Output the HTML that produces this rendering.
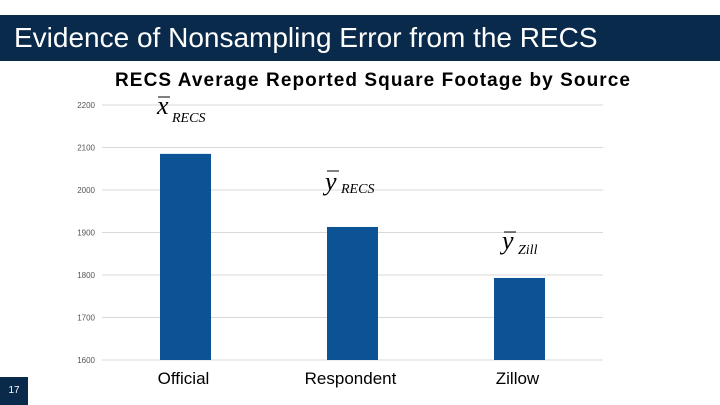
<!DOCTYPE html>
<html><head><meta charset="utf-8"><style>
body{margin:0;width:720px;height:405px;background:#fff;overflow:hidden;position:relative;font-family:"Liberation Sans",sans-serif}
#banner{position:absolute;left:0;top:15px;width:720px;height:46px;background:#0a2a4c;color:#fff;font-size:28px;line-height:46px;padding-left:14px;box-sizing:border-box}
#pg{position:absolute;left:0;top:377px;width:28px;height:28px;background:#0a2a4c;color:#fff;font-size:10px;line-height:28px;text-align:center}
</style></head><body>
<div id="banner">Evidence of Nonsampling Error from the RECS</div>
<div id="pg">17</div>
<svg id="chart" width="720" height="405" style="position:absolute;left:0;top:0">
<text x="115" y="86" textLength="515" lengthAdjust="spacing" font-size="19" font-weight="bold" font-family="Liberation Sans">RECS Average Reported Square Footage by Source</text>
<g id="grid"></g><g id="bars"></g><g id="labels"></g>
<g font-family="Liberation Serif" font-style="italic">
<text x="157" y="114" font-size="26">x</text><line x1="158" y1="97" x2="170" y2="97" stroke="#000"/><text x="172" y="122" font-size="14">RECS</text>
<text x="325" y="190" font-size="26">y</text><line x1="327" y1="171" x2="339" y2="171" stroke="#000"/><text x="341" y="193" font-size="14">RECS</text>
<text x="502" y="249" font-size="26">y</text><line x1="504" y1="232" x2="516" y2="232" stroke="#000"/><text x="518" y="254" font-size="14">Zill</text>
</g>
</svg>
<script>
const categories=["Official","Respondent","Zillow"];
const values=[2085,1913,1793];
const ticks=[1600,1700,1800,1900,2000,2100,2200];
const y0=360,y1=105,vmin=1600,vmax=2200;
const y=v=>y0-(v-vmin)/(vmax-vmin)*(y0-y1);
const x=i=>185.5+i*167;
const ns="http://www.w3.org/2000/svg";
const g=document.getElementById('grid'),b=document.getElementById('bars'),l=document.getElementById('labels');
ticks.forEach(t=>{
 const ln=document.createElementNS(ns,'line');
 
 
 ln.setAttribute('x1',102);ln.setAttribute('x2',603);ln.setAttribute('y1',y(t));ln.setAttribute('y2',y(t));ln.setAttribute('stroke','#d9d9d9');
 g.appendChild(ln);
 const tx=document.createElementNS(ns,'text');
 
 
 tx.setAttribute('x',95);tx.setAttribute('y',y(t)+3);tx.setAttribute('text-anchor','end');tx.setAttribute('font-size','8');tx.setAttribute('fill','#555');
 tx.textContent=t;g.appendChild(tx);
});
categories.forEach((c,i)=>{
 const r=document.createElementNS(ns,'rect');
 
 
 r.setAttribute('x',x(i)-25.5);r.setAttribute('width',51);r.setAttribute('y',y(values[i]));r.setAttribute('height',y0-y(values[i]));r.setAttribute('fill','#0b5394');
 b.appendChild(r);
 const tx=document.createElementNS(ns,'text');
 
 
 tx.setAttribute('x',x(i)-2);tx.setAttribute('y',384);tx.setAttribute('text-anchor','middle');tx.setAttribute('font-size','17');
 tx.textContent=c;l.appendChild(tx);
});
</script>
</body></html>
